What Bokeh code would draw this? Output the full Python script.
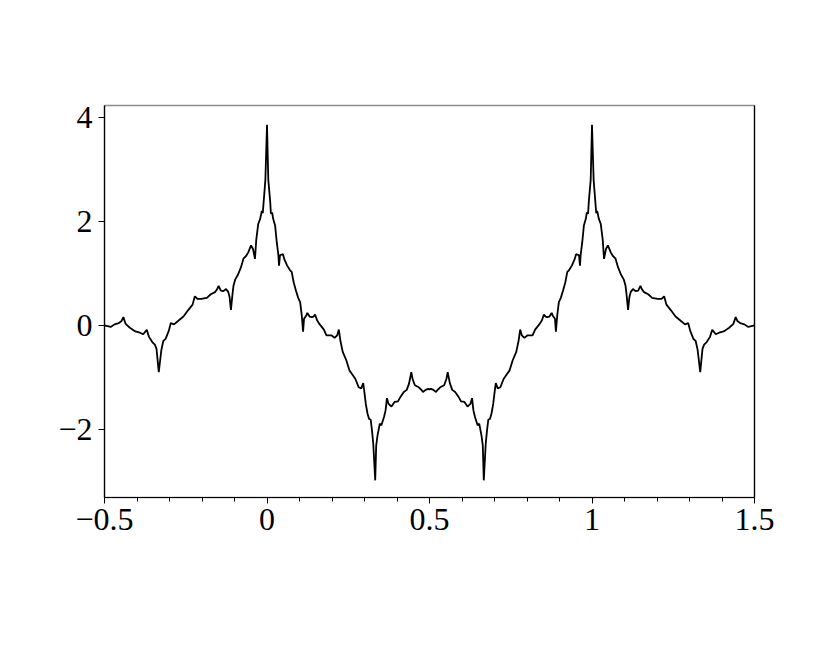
from bokeh.plotting import figure
from bokeh.models import FixedTicker, CustomJSTickFormatter, Range1d, LinearAxis
from bokeh.embed import file_html
from bokeh.resources import INLINE

# values
xs = [-0.500, -0.481, -0.469, -0.456, -0.448, -0.442, -0.435, -0.422, -0.405, -0.391,
      -0.381, -0.370, -0.363, -0.353, -0.345, -0.340, -0.333, -0.325, -0.319, -0.312,
      -0.302, -0.296, -0.286, -0.271, -0.257, -0.243, -0.229, -0.222, -0.214, -0.202,
      -0.185, -0.173, -0.160, -0.154, -0.149, -0.142, -0.134, -0.126, -0.119, -0.115,
      -0.111, -0.106, -0.103, -0.098, -0.089, -0.080, -0.072, -0.065, -0.058, -0.049,
      -0.043, -0.037, -0.033, -0.027, -0.021, -0.016, -0.013, -0.010, -0.005, 0.000,
      0.004, 0.010, 0.012, 0.016, 0.019, 0.025, 0.030, 0.035, 0.037, 0.040,
      0.045, 0.049, 0.053, 0.062, 0.071, 0.076, 0.082, 0.089, 0.096, 0.102,
      0.107, 0.111, 0.114, 0.121, 0.124, 0.131, 0.138, 0.143, 0.148, 0.154,
      0.161, 0.175, 0.183, 0.198, 0.208, 0.216, 0.221, 0.226, 0.233, 0.244,
      0.254, 0.262, 0.272, 0.282, 0.290, 0.296, 0.299, 0.304, 0.309, 0.314,
      0.319, 0.323, 0.327, 0.333, 0.336, 0.340, 0.347, 0.352, 0.360, 0.365,
      0.369, 0.374, 0.383, 0.393, 0.403, 0.411, 0.421, 0.430, 0.437, 0.444,
      0.448, 0.455, 0.467, 0.475, 0.480, 0.488, 0.496, 0.500,
      0.504, 0.512, 0.520, 0.525, 0.533, 0.545, 0.552, 0.556, 0.563, 0.570,
      0.579, 0.589, 0.597, 0.607, 0.617, 0.626, 0.631, 0.635, 0.640, 0.648,
      0.653, 0.660, 0.664, 0.667, 0.673, 0.677, 0.681, 0.686, 0.691, 0.696,
      0.701, 0.704, 0.710, 0.718, 0.728, 0.738, 0.746, 0.756, 0.767, 0.774,
      0.779, 0.784, 0.792, 0.802, 0.817, 0.825, 0.839, 0.846, 0.852, 0.857,
      0.862, 0.869, 0.876, 0.879, 0.886, 0.889, 0.893, 0.898, 0.904, 0.911,
      0.918, 0.924, 0.929, 0.938, 0.947, 0.951, 0.955, 0.960, 0.963, 0.965,
      0.970, 0.975, 0.981, 0.984, 0.988, 0.990, 0.996, 1.000, 1.005, 1.010,
      1.013, 1.016, 1.021, 1.027, 1.033, 1.037, 1.043, 1.049, 1.058, 1.065,
      1.072, 1.080, 1.089, 1.098, 1.103, 1.106, 1.111, 1.115, 1.119, 1.126,
      1.134, 1.142, 1.149, 1.154, 1.160, 1.173, 1.185, 1.202, 1.214, 1.222,
      1.229, 1.243, 1.257, 1.271, 1.286, 1.296, 1.302, 1.312, 1.319, 1.325,
      1.333, 1.340, 1.345, 1.353, 1.363, 1.370, 1.381, 1.391, 1.405, 1.422,
      1.435, 1.442, 1.448, 1.456, 1.469, 1.481, 1.500]

ys = [0.00, -0.03, 0.02, 0.045, 0.08, 0.16, 0.03, -0.045, -0.115, -0.14,
      -0.17, -0.085, -0.22, -0.32, -0.37, -0.45, -0.90, -0.47, -0.30, -0.26,
      -0.10, 0.045, 0.02, 0.10, 0.17, 0.29, 0.40, 0.56, 0.51, 0.51,
      0.53, 0.60, 0.64, 0.69, 0.76, 0.67, 0.66, 0.70, 0.64, 0.54,
      0.30, 0.61, 0.77, 0.88, 0.98, 1.12, 1.29, 1.33, 1.40, 1.54,
      1.47, 1.28, 1.65, 1.95, 2.05, 2.20, 2.16, 2.40, 2.80, 3.86,
      2.80, 2.37, 2.15, 2.17, 2.05, 1.92, 1.60, 1.35, 1.15, 1.35,
      1.36, 1.37, 1.28, 1.15, 1.06, 1.03, 0.83, 0.67, 0.53, 0.45,
      0.19, -0.12, 0.13, 0.19, 0.24, 0.17, 0.16, 0.17, 0.21, 0.10,
      0.03, -0.08, -0.19, -0.19, -0.24, -0.19, -0.08, -0.30, -0.51, -0.67,
      -0.87, -0.94, -1.03, -1.19, -1.21, -1.11, -1.25, -1.51, -1.69, -1.80,
      -1.81, -2.02, -2.28, -2.98, -2.31, -2.12, -1.89, -1.92, -1.76, -1.63,
      -1.40, -1.51, -1.56, -1.47, -1.46, -1.37, -1.28, -1.24, -1.12, -0.90,
      -1.03, -1.15, -1.19, -1.24, -1.28, -1.24, -1.22, -1.23,
      -1.22, -1.24, -1.28, -1.24, -1.19, -1.15, -1.03, -0.90, -1.12, -1.24,
      -1.28, -1.37, -1.46, -1.47, -1.56, -1.51, -1.40, -1.63, -1.76, -1.92,
      -1.89, -2.12, -2.31, -2.98, -2.28, -2.02, -1.81, -1.80, -1.69, -1.51,
      -1.25, -1.11, -1.21, -1.19, -1.03, -0.94, -0.87, -0.67, -0.51, -0.30,
      -0.08, -0.19, -0.24, -0.19, -0.19, -0.08, 0.03, 0.10, 0.21, 0.17,
      0.16, 0.17, 0.24, 0.19, 0.13, -0.12, 0.19, 0.45, 0.53, 0.67,
      0.83, 1.03, 1.06, 1.15, 1.28, 1.37, 1.36, 1.35, 1.15, 1.35,
      1.60, 1.92, 2.05, 2.17, 2.15, 2.37, 2.80, 3.86, 2.80, 2.40,
      2.16, 2.20, 2.05, 1.95, 1.65, 1.28, 1.47, 1.54, 1.40, 1.33,
      1.29, 1.12, 0.98, 0.88, 0.77, 0.61, 0.30, 0.54, 0.64, 0.70,
      0.66, 0.67, 0.76, 0.69, 0.64, 0.60, 0.53, 0.51, 0.51, 0.56,
      0.40, 0.29, 0.17, 0.10, 0.02, 0.045, -0.10, -0.26, -0.30, -0.47,
      -0.90, -0.45, -0.37, -0.32, -0.22, -0.085, -0.17, -0.14, -0.115, -0.045,
      0.03, 0.16, 0.08, 0.045, 0.02, -0.03, 0.00]

x_major = [-0.5, 0, 0.5, 1, 1.5]
x_minor = [-0.4, -0.3, -0.2, -0.1, 0.1, 0.2, 0.3, 0.4, 0.6, 0.7, 0.8, 0.9,
           1.1, 1.2, 1.3, 1.4]
y_major = [-2, 0, 2, 4]

p = figure(width=822, height=656, output_backend="svg", toolbar_location=None,
           x_range=Range1d(-0.5, 1.5), y_range=Range1d(-3.31, 4.23),
           min_border_left=104, min_border_right=68, min_border_top=105,
           min_border_bottom=159)
p.grid.visible = False
p.outline_line_color = "#8c8c8c"
p.outline_line_width = 1.5

p.line(xs, ys, line_color="black", line_width=1.8)

fmt = CustomJSTickFormatter(code="""
    var a = Math.abs(tick);
    var s = (Math.round(a*10) % 10 === 0) ? a.toFixed(0) : a.toFixed(1);
    return (tick < -1e-9 ? "\u2212" : "") + s;
""")

xa = p.xaxis[0]
xa.ticker = FixedTicker(ticks=x_major, minor_ticks=x_minor)
ya = p.yaxis[0]
ya.ticker = FixedTicker(ticks=y_major, minor_ticks=[])
for ax in (xa, ya):
    ax.formatter = fmt
    ax.axis_line_color = "black"
    ax.axis_line_width = 1.2
    ax.major_tick_line_color = "black"
    ax.minor_tick_line_color = "black"
    ax.major_tick_in = 0
    ax.major_tick_out = 6
    ax.minor_tick_in = 0
    ax.minor_tick_out = 4
    ax.major_label_text_font = "Liberation Serif"
    ax.major_label_text_font_size = "32px"
    ax.major_label_text_color = "black"
xa.major_label_standoff = 5
ya.major_label_standoff = 6

ra = LinearAxis(ticker=FixedTicker(ticks=[]), major_label_text_font_size="0px",
                axis_line_color="black", axis_line_width=1.2)
p.add_layout(ra, "right")

open("out.html", "w").write(file_html(p, INLINE))
